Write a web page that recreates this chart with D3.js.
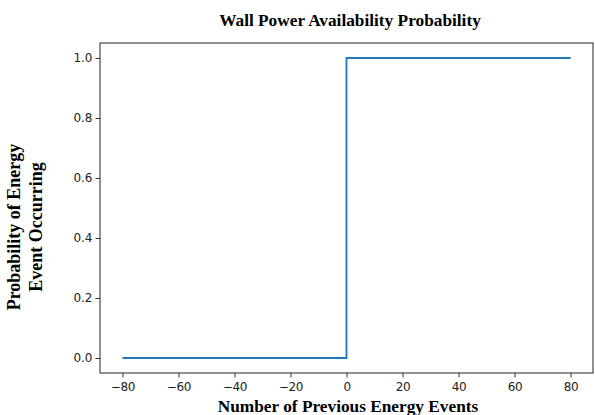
<!DOCTYPE html>
<html><head><meta charset="utf-8">
<script src="https://cdn.jsdelivr.net/npm/d3@7"></script>
<style>body{margin:0;background:#fff}svg{display:block}</style>
</head><body>
<script>
const title = "Wall Power Availability Probability";
const xLabel = "Number of Previous Energy Events";
const yLabelLines = ["Probability of Energy", "Event Occurring"];
const stepX = [-80, 0, 80];
const stepY = [0, 1, 1];
const xTicks = [-80, -60, -40, -20, 0, 20, 40, 60, 80];
const yTicks = [0.0, 0.2, 0.4, 0.6, 0.8, 1.0];

const W = 595, H = 415;
const m = {left: 100, right: 2, top: 43, bottom: 42};
const svg = d3.select("body").append("svg").attr("width", W).attr("height", H);
const x = d3.scaleLinear().domain([-88, 88]).range([m.left, W - m.right]);
const y = d3.scaleLinear().domain([-0.05, 1.05]).range([H - m.bottom, m.top]);

const tickFont = "DejaVu Sans";
const gx = svg.append("g").attr("transform", `translate(0,${H - m.bottom})`)
  .call(d3.axisBottom(x).tickValues(xTicks).tickSize(4.5).tickPadding(4.5).tickFormat(d => d < 0 ? "\u2212" + Math.abs(d) : d));
const gy = svg.append("g").attr("transform", `translate(${m.left},0)`)
  .call(d3.axisLeft(y).tickValues(yTicks).tickSize(4.5).tickPadding(3).tickFormat(d3.format(".1f")));
[gx, gy].forEach(g => {
  g.select(".domain").remove();
  g.selectAll("line").attr("stroke", "#222").attr("stroke-width", 0.9);
  g.selectAll("text").attr("font-family", tickFont).attr("font-size", 12).attr("fill", "#222");
});
gx.selectAll("text").attr("letter-spacing", -0.4);

svg.append("rect").attr("x", m.left).attr("y", m.top)
  .attr("width", W - m.right - m.left).attr("height", H - m.bottom - m.top)
  .attr("fill", "none").attr("stroke", "#222").attr("stroke-width", 1);

const pts = stepX.map((v, i) => [v, stepY[i]]);
svg.append("path").datum(pts)
  .attr("d", d3.line().x(d => x(d[0])).y(d => y(d[1])).curve(d3.curveStepAfter))
  .attr("fill", "none").attr("stroke", "#1f77b4").attr("stroke-width", 1.8);

const serif = "'Liberation Serif', 'Times New Roman', serif";
svg.append("text").attr("x", 350).attr("y", 26).attr("text-anchor", "middle")
  .attr("font-family", serif).attr("font-weight", "bold").attr("font-size", 17.3).text(title);
svg.append("text").attr("x", 348).attr("y", 412).attr("text-anchor", "middle")
  .attr("font-family", serif).attr("font-weight", "bold").attr("font-size", 17.3).text(xLabel);
const yl = svg.append("text").attr("transform", "translate(20,227) rotate(-90)")
  .attr("text-anchor", "middle").attr("font-family", serif).attr("font-weight", "bold").attr("font-size", 18);
yLabelLines.forEach((t, i) => yl.append("tspan").attr("x", 0).attr("dy", i ? 21.5 : 0).text(t));
</script>
</body></html>
